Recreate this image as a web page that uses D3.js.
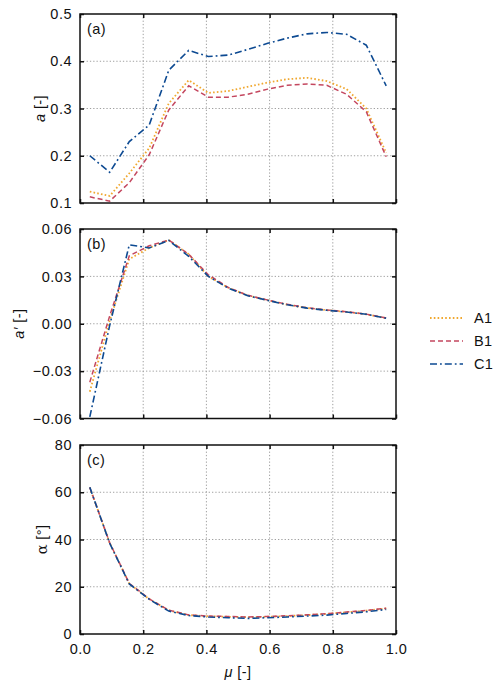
<!DOCTYPE html>
<html>
<head>
<meta charset="utf-8">
<script src="https://cdn.jsdelivr.net/npm/d3@7"></script>
<style>
  body { margin: 0; background: #fff; }
  svg text { font-family: "Liberation Sans", Arial, sans-serif; fill: #111; }
</style>
</head>
<body>
<div id="chart"></div>
<script>
"use strict";

// Radial position (mu) shared by all panels
const mu = [0.031, 0.094, 0.156, 0.219, 0.281, 0.344, 0.406, 0.469, 0.531, 0.594, 0.656, 0.719, 0.781, 0.844, 0.906, 0.969];

const seriesNames = ["A1", "B1", "C1"];

// (a) axial induction a
const aA1 = [0.124, 0.115, 0.163, 0.216, 0.311, 0.360, 0.333, 0.337, 0.346, 0.355, 0.362, 0.365, 0.358, 0.341, 0.300, 0.206];
const aB1 = [0.113, 0.104, 0.143, 0.202, 0.297, 0.348, 0.324, 0.324, 0.330, 0.341, 0.349, 0.352, 0.349, 0.330, 0.293, 0.198];
const aC1 = [0.200, 0.165, 0.230, 0.265, 0.381, 0.423, 0.410, 0.413, 0.425, 0.438, 0.449, 0.458, 0.461, 0.457, 0.434, 0.348];

// (b) tangential induction a'
const bA1 = [-0.043, 0.002, 0.041, 0.048, 0.053, 0.044, 0.030, 0.0228, 0.0179, 0.0149, 0.0121, 0.0100, 0.0086, 0.0075, 0.0060, 0.0035];
const bB1 = [-0.037, 0.005, 0.043, 0.0494, 0.053, 0.044, 0.031, 0.0230, 0.0180, 0.0150, 0.0123, 0.0101, 0.0087, 0.0076, 0.0061, 0.0036];
const bC1 = [-0.059, -0.001, 0.050, 0.048, 0.0528, 0.0427, 0.030, 0.0226, 0.0177, 0.0148, 0.0120, 0.0099, 0.0085, 0.0074, 0.0060, 0.0035];

// (c) angle of attack alpha
const cA1 = [62.0, 38.5, 21.3, 14.8, 10.0, 8.0, 7.5, 7.3, 7.1, 7.3, 7.6, 8.0, 8.5, 9.2, 9.9, 10.8];
const cB1 = [62.0, 38.6, 21.4, 14.9, 10.1, 8.1, 7.6, 7.4, 7.2, 7.4, 7.7, 8.1, 8.6, 9.3, 10.0, 10.9];
const cC1 = [62.1, 38.4, 21.2, 14.7, 9.7, 7.8, 7.2, 6.9, 6.6, 6.9, 7.2, 7.6, 8.0, 8.7, 9.4, 10.4];

// ticks
const xTicks = [0, 0.2, 0.4, 0.6, 0.8, 1.0];
const aTicks = [0.1, 0.2, 0.3, 0.4, 0.5];
const bTicks = [-0.06, -0.03, 0, 0.03, 0.06];
const cTicks = [0, 20, 40, 60, 80];

const width = 500, height = 685;
const left = 80, right = 396;

const styles = {
  A1: { color: "#f0a830", dash: "1.6,2.2", width: 1.8 },
  B1: { color: "#c4475f", dash: "5,3", width: 1.5 },
  C1: { color: "#0d4a92", dash: "7,3,1.8,3", width: 1.6 }
};

const svg = d3.select("#chart").append("svg")
  .attr("width", width)
  .attr("height", height);

const x = d3.scaleLinear().domain([0, 1]).range([left, right]);

const panels = [
  { label: "(a)", top: 14, bottom: 203, domain: [0.1, 0.5], ticks: aTicks, fmt: d3.format(".1f"),
    data: { A1: aA1, B1: aB1, C1: aC1 }, title: "a", titleX: 45 },
  { label: "(b)", top: 229, bottom: 418.5, domain: [-0.06, 0.06], ticks: bTicks, fmt: d3.format(".2f"),
    data: { A1: bA1, B1: bB1, C1: bC1 }, title: "a′", titleX: 24 },
  { label: "(c)", top: 445, bottom: 634, domain: [0, 80], ticks: cTicks, fmt: d3.format("d"),
    data: { A1: cA1, B1: cB1, C1: cC1 }, title: "α", titleX: 47 }
];

panels.forEach((p, idx) => {
  const y = d3.scaleLinear().domain(p.domain).range([p.bottom, p.top]);
  const g = svg.append("g");

  // grid
  g.selectAll(".gx").data(xTicks.slice(1, -1)).enter().append("line")
    .attr("x1", d => x(d)).attr("x2", d => x(d))
    .attr("y1", p.top).attr("y2", p.bottom)
    .attr("stroke", "#a0a0a0").attr("stroke-width", 1).attr("stroke-dasharray", "1.3,2");
  g.selectAll(".gy").data(p.ticks.slice(1, -1)).enter().append("line")
    .attr("x1", left).attr("x2", right)
    .attr("y1", d => y(d)).attr("y2", d => y(d))
    .attr("stroke", "#a0a0a0").attr("stroke-width", 1).attr("stroke-dasharray", "1.3,2");

  // axes with inward ticks on all four sides
  const fmt = p.fmt;
  const yl = g.append("g").attr("transform", `translate(${left},0)`)
    .call(d3.axisLeft(y).tickValues(p.ticks).tickSizeInner(-4).tickSizeOuter(0).tickPadding(8)
      .tickFormat(d => fmt(d).replace("-", "−")));
  const yr = g.append("g").attr("transform", `translate(${right},0)`)
    .call(d3.axisRight(y).tickValues(p.ticks).tickSizeInner(-4).tickSizeOuter(0).tickFormat(""));
  const xb = g.append("g").attr("transform", `translate(0,${p.bottom})`)
    .call(d3.axisBottom(x).tickValues(xTicks).tickSizeInner(-4).tickSizeOuter(0).tickPadding(10)
      .tickFormat(idx === 2 ? d3.format(".1f") : ""));
  const xt = g.append("g").attr("transform", `translate(0,${p.top})`)
    .call(d3.axisTop(x).tickValues(xTicks).tickSizeInner(-4).tickSizeOuter(0).tickFormat(""));
  [yl, yr, xb, xt].forEach(ax => {
    ax.select(".domain").remove();
    ax.selectAll("line").attr("stroke", "#111").attr("stroke-width", 1.5);
    ax.selectAll("text").attr("font-size", 14.5).attr("fill", "#111")
      .attr("letter-spacing", 0.5)
      .style("font-family", "'Liberation Sans', Arial, sans-serif");
  });

  // series lines
  const line = d3.line().x((d, i) => x(mu[i])).y(d => y(d));
  seriesNames.forEach(name => {
    const s = styles[name];
    g.append("path")
      .datum(p.data[name])
      .attr("d", line)
      .attr("fill", "none")
      .attr("stroke", s.color)
      .attr("stroke-width", s.width)
      .attr("stroke-dasharray", s.dash);
  });

  // frame
  g.append("rect")
    .attr("x", left).attr("y", p.top)
    .attr("width", right - left).attr("height", p.bottom - p.top)
    .attr("fill", "none").attr("stroke", "#111").attr("stroke-width", 1.5);

  // panel label
  g.append("text").attr("x", 87).attr("y", p.top + 20)
    .attr("font-size", 14.5).attr("letter-spacing", 0.4).text(p.label);

  // y title
  const cy = (p.top + p.bottom) / 2;
  const t = g.append("text")
    .attr("transform", `translate(${p.titleX},${cy}) rotate(-90)`)
    .attr("text-anchor", "middle")
    .attr("font-size", 14.5)
    .attr("letter-spacing", 0.4);
  if (idx === 2) {
    t.append("tspan").style("font-family", "'DejaVu Serif', serif").text(p.title);
    t.append("tspan").text(" [°]");
  } else {
    t.append("tspan").attr("font-style", "italic").text(p.title);
    t.append("tspan").text(" [-]");
  }
});

// x title
const xTitle = svg.append("text")
  .attr("x", (left + right) / 2).attr("y", 677)
  .attr("text-anchor", "middle").attr("font-size", 14.5).attr("letter-spacing", 0.4);
xTitle.append("tspan").attr("font-style", "italic").text("μ");
xTitle.append("tspan").text(" [-]");

// legend
const legend = svg.append("g");
seriesNames.forEach((name, i) => {
  const s = styles[name];
  const ly = 318 + i * 23;
  legend.append("line")
    .attr("x1", 430).attr("x2", 463).attr("y1", ly).attr("y2", ly)
    .attr("stroke", s.color).attr("stroke-width", s.width).attr("stroke-dasharray", s.dash);
  legend.append("text")
    .attr("x", 474).attr("y", ly + 5)
    .attr("font-size", 14.5).attr("letter-spacing", 0.4).text(name);
});
</script>
</body>
</html>
